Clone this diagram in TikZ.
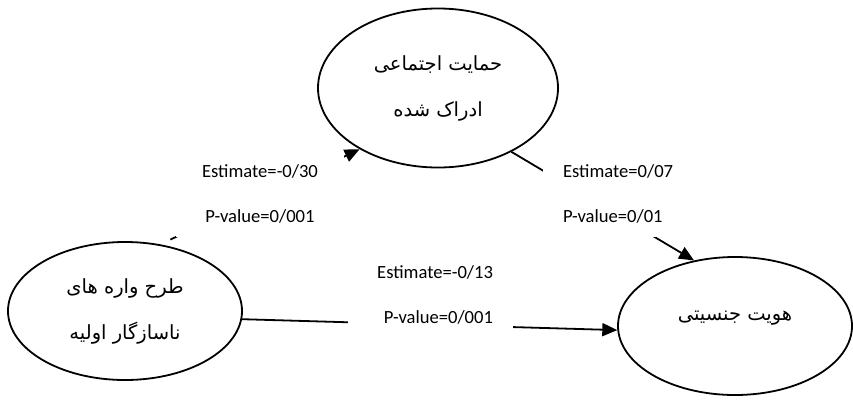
\documentclass[tikz,border=0pt]{standalone}
\usepackage{fontspec}
\usetikzlibrary{positioning}
\usetikzlibrary{shapes.geometric}
\usetikzlibrary{arrows.meta}
\TeXXeTstate=1
\newfontfamily\arabicfont[Script=Arabic]{DejaVu Sans}
\newfontfamily\estfont{Carlito}

\begin{document}
\begin{tikzpicture}
		[x=1pt, y=-1pt, on grid,
		construct/.style={ellipse, draw=black, line width=1.8pt, align=center, inner sep=0pt, font={\arabicfont\fontsize{19.5}{46}\selectfont}},
		effect/.style={line width=1.8pt, -{Triangle[length=15pt, width=13pt]}},
		coef/.style={fill=white, inner xsep=20pt, inner ysep=0pt, font={\estfont\fontsize{18.6}{45}\selectfont}}]
		\useasboundingbox (0,0) rectangle (853,399);

		\node[construct, minimum width=234pt, minimum height=138pt] (schema) at (125,311) {\beginR طرح واره های\endR\\\beginR ناسازگار اولیه\endR};
		\node[construct, minimum width=240pt, minimum height=159pt, above right=223pt and 313pt of schema] (support) {\beginR حمایت اجتماعی\endR\\\beginR ادراک شده\endR};
		\node[construct, minimum width=234pt, minimum height=138pt, below right=15pt and 610pt of schema,
			label={[yshift=8pt, font={\arabicfont\fontsize{19.5}{46}\selectfont}]center:{\beginR هویت جنسیتی\endR}}] (identity) {};

		\draw[effect, shorten <=11pt] (schema.62) to (support.218);
		\draw[effect] (support.-41) to (identity.122);
		\draw[effect] (schema.-4) to (identity.182);

		\node[coef, align=center, text width=128pt, minimum height=86pt] (est1) at (260,194) {Estimate=-0/30\\P-value=0/001};
		\node[coef, align=left, text width=117pt, minimum height=87pt] (est2) at (621.5,193.5) {Estimate=0/07\\P-value=0/01};
		\node[coef, align=right, text width=125pt, minimum height=90pt] (est3) at (430.5,295) {Estimate=-0/13\\P-value=0/001};
	\end{tikzpicture}
\end{document}
